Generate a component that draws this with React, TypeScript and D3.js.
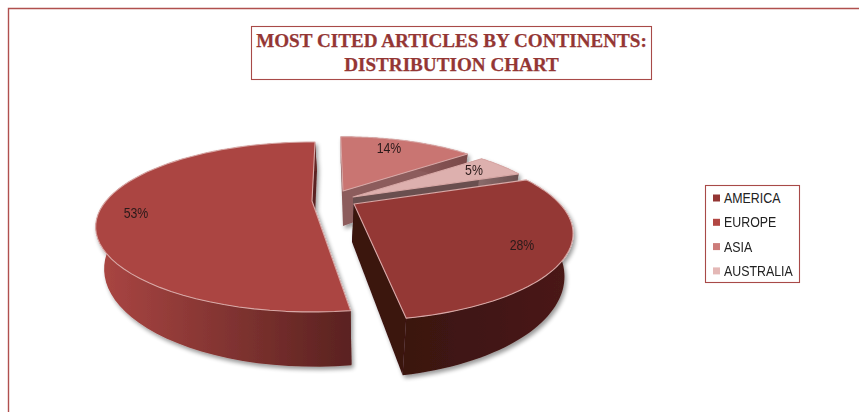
import React from "react";
import * as d3 from "d3";

const categories = ["AMERICA", "EUROPE", "ASIA", "AUSTRALIA"];
const shares = [28, 53, 14, 5];
const labels = ["28%", "53%", "14%", "5%"];
const titleLines = ["MOST CITED ARTICLES BY CONTINENTS:", "DISTRIBUTION CHART"];

const topFill = ["#943835", "#ab4542", "#c97472", "#ddb0ae"];
const swatch = ["#943634", "#b24743", "#cd7c7a", "#e4b8b6"];
const wallFrom = ["#3a1210", "#ab4643", "#a06a6a", "#8a6a6a"];
const wallTo = ["#4a1a17", "#5a2220", "#7a4a4a", "#6b5050"];
const cutFill = ["#3a1210", "#5a2220", "#8c5c5c", "#6b5050"];
const apexX = [354, 312, 343, 353];
const apexY = [204, 201, 191, 197];
const labelX = [522, 136, 389, 474];
const labelY = [250, 218, 153, 175];
// layout tuning per slice: perspective, scale, bottom-edge shift, angular trim (degrees)
const persp = [0.34, 0.306, 0.306, 0.306];
const scaleBy = [1, 1, 0.92, 0.95];
const lowDx = [-2, 2, 0, 0];
const trimStart = [0, 2.2, -2, 0];
const trimEnd = [0, 0, 0, 0];

const A = 77, B = 206, DEPTH = 38, SHRINK = 0.97;

const project = (u: number, v: number, low: boolean, k: number, dx: number): [number, number] => {
  const w = 1 - k * v;
  return low
    ? [(B * u * SHRINK) / w + dx, (A * v + DEPTH) / w]
    : [(B * u) / w, (A * v) / w];
};

const start = (69.5 * Math.PI) / 180;
const pie = d3.pie<number>().sort(null).startAngle(start).endAngle(start + 2 * Math.PI);
const slices = pie(shares);
const line = d3.line();
const paintOrder = [2, 3, 1, 0];
const rad = Math.PI / 180;

export default function App() {
  return (
    <svg width={859} height={412} style={{ position: "absolute", left: 0, top: 0, background: "#fff" }}>
      <defs>
        <filter id="sh" x="-10%" y="-10%" width="120%" height="130%">
          <feGaussianBlur in="SourceAlpha" stdDeviation="2" />
          <feOffset dx="2" dy="3" />
          <feComponentTransfer><feFuncA type="linear" slope="0.4" /></feComponentTransfer>
          <feMerge><feMergeNode /><feMergeNode in="SourceGraphic" /></feMerge>
        </filter>
        {categories.map((c, i) => (
          <linearGradient key={c} id={`w${i}`} x1="0" x2="1" y1="0" y2="0">
            <stop offset="0" stopColor={wallFrom[i]} />
            <stop offset="1" stopColor={wallTo[i]} />
          </linearGradient>
        ))}
      </defs>
      <path d="M8.5 412V8.5H859" fill="none" stroke="#b0504e" strokeWidth={1.4} />
      <rect x={251.5} y={26.5} width={400} height={53} fill="#fff" stroke="#a84a48" strokeWidth={1.1} />
      {titleLines.map((t, i) => (
        <text key={t} x={451.5} y={47 + i * 24} textAnchor="middle" fontFamily="'Liberation Serif'" fontWeight={700} fontSize={19.15} fill="#943634" stroke="#943634" strokeWidth={0.25}>{t}</text>
      ))}
      <g filter="url(#sh)">
        {paintOrder.map((i) => {
          const s = slices[i];
          const a0 = s.startAngle + trimStart[i] * rad;
          const a1 = s.endAngle + trimEnd[i] * rad;
          const k = persp[i];
          const rim = (low: boolean) =>
            d3.range(0, 61).map((j) => {
              const t = a0 + ((a1 - a0) * j) / 60;
              return project(Math.sin(t), -Math.cos(t), low, k, lowDx[i]);
            });
          const o = rim(false);
          const ob = rim(true);
          const apex = project(0, 0, false, k, lowDx[i]);
          const apexB = project(0, 0, true, k, lowDx[i]);
          const top = line([apex, ...o])! + "Z";
          const wall = line([...o, ...ob.slice().reverse()])! + "Z";
          const c0 = line([apex, o[0], ob[0], apexB])! + "Z";
          const c1 = line([apex, o[60], ob[60], apexB])! + "Z";
          return (
            <g key={i} transform={`translate(${apexX[i]},${apexY[i]}) scale(${scaleBy[i]})`}>
              <path d={c0} fill={cutFill[i]} />
              <path d={c1} fill={cutFill[i]} />
              <path d={wall} fill={`url(#w${i})`} />
              <path d={top} fill={topFill[i]} stroke="#d8a8a6" strokeWidth={1.1} strokeLinejoin="round" />
            </g>
          );
        })}
      </g>
      {labels.map((t, i) => (
        <text key={t} transform={`translate(${labelX[i]},${labelY[i]}) scale(0.88,1)`} textAnchor="middle" fontFamily="'Liberation Sans'" fontSize={14} fill="#2a1a1a">{t}</text>
      ))}
      <rect x={705.5} y={185.5} width={94} height={97} fill="#fff" stroke="#a84a48" strokeWidth={1.1} />
      {categories.map((c, i) => (
        <g key={c} transform={`translate(0,${198 + i * 24.3})`}>
          <rect x={713} y={-3.5} width={7} height={7} fill={swatch[i]} />
          <text transform="translate(724,5) scale(0.885,1)" fontFamily="'Liberation Sans'" fontSize={14} fill="#222">{c}</text>
        </g>
      ))}
    </svg>
  );
}
